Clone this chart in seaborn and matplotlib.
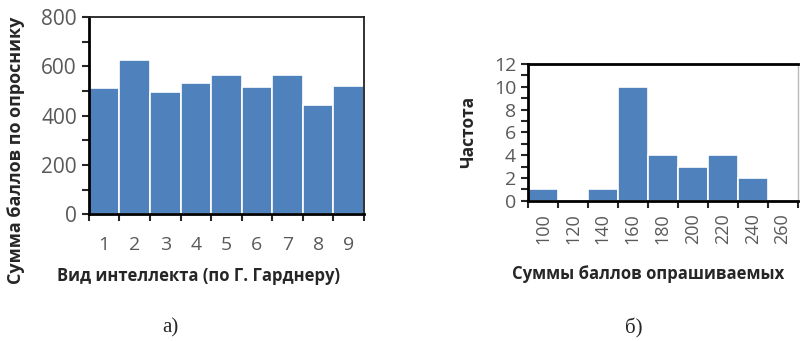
import matplotlib
matplotlib.use('Agg')
import matplotlib.pyplot as plt
import seaborn as sns
import pandas as pd
from matplotlib.ticker import MultipleLocator

# Data: left chart (sum of scores per intelligence type)
intel_types = ['1', '2', '3', '4', '5', '6', '7', '8', '9']
intel_sums = [512, 627, 494, 531, 566, 517, 564, 441, 522]

# Data: right chart (histogram of respondents' sums)
bin_labels = ['100', '120', '140', '160', '180', '200', '220', '240', '260']
bin_counts = [1, 0, 1, 10, 4, 3, 4, 2, 0]

sns.set_style("ticks")
plt.rcParams['font.family'] = ['Open Sans', 'DejaVu Sans']

BAR = '#4F81BD'
TICK = '#595959'

fig = plt.figure(figsize=(8, 3.41), dpi=100)
ax1 = fig.add_axes([0.111, 0.372, 0.344, 0.578])
ax2 = fig.add_axes([0.660, 0.4115, 0.337, 0.4005])

df1 = pd.DataFrame({'type': intel_types, 'sum': intel_sums})
df2 = pd.DataFrame({'bin': bin_labels, 'count': bin_counts})

sns.barplot(data=df1, x='type', y='sum', ax=ax1, color=BAR, width=1.0,
            edgecolor='white', linewidth=1.2, saturation=1)
sns.barplot(data=df2, x='bin', y='count', ax=ax2, color=BAR, width=1.0,
            edgecolor='white', linewidth=1.2, saturation=1)


def style_axis(ax, n, ymax, major, minor):
    ax.set_xlim(-0.5, n - 0.5)
    ax.set_ylim(0, ymax)
    ax.yaxis.set_major_locator(MultipleLocator(major))
    ax.yaxis.set_minor_locator(MultipleLocator(minor))
    ax.set_xticks([i - 0.5 for i in range(n + 1)], minor=True)
    ax.tick_params(axis='x', which='major', length=0, labelsize=14,
                   labelcolor=TICK, pad=16)
    ax.tick_params(axis='x', which='minor', length=5, width=1.5, direction='out')
    ax.tick_params(axis='y', which='both', length=5, width=1.5, direction='out',
                   labelsize=15, labelcolor=TICK)
    for s in ['left', 'bottom']:
        ax.spines[s].set_linewidth(2)
        ax.spines[s].set_color('black')


style_axis(ax1, len(intel_types), 800, 200, 100)
style_axis(ax2, len(bin_labels), 12, 2, 1)

for s in ['top', 'right']:
    ax1.spines[s].set_visible(True)
    ax1.spines[s].set_linewidth(1.3)
    ax1.spines[s].set_color('#222222')

ax2.spines['top'].set_visible(True)
ax2.spines['top'].set_linewidth(2)
ax2.spines['top'].set_color('black')
ax2.spines['right'].set_visible(True)
ax2.spines['right'].set_linewidth(1)
ax2.spines['right'].set_color('#bbbbbb')

ax2.tick_params(axis='x', which='major', rotation=90, pad=9, labelsize=13)
ax2.tick_params(axis='y', labelsize=14)

ax1.set_xlabel('Вид интеллекта (по Г. Гарднеру)', fontsize=12,
               fontweight='bold')
ax1.xaxis.set_label_coords(0.40, -0.27)
ax1.set_ylabel('Сумма баллов по опроснику', fontsize=13,
               fontweight='bold')
ax1.yaxis.set_label_coords(-0.232, 0.325)
ax2.set_xlabel('Суммы баллов опрашиваемых', fontsize=12,
               fontweight='bold')
ax2.xaxis.set_label_coords(0.444, -0.47)
ax2.set_ylabel('Частота', fontsize=12.5, fontweight='bold')
ax2.yaxis.set_label_coords(-0.19, 0.5)

fig.text(170 / 800, 1 - 328 / 341, 'а)', ha='center', va='center',
         fontsize=15, family=['Liberation Serif', 'DejaVu Serif'])
fig.text(634 / 800, 1 - 328 / 341, 'б)', ha='center', va='center',
         fontsize=15, family=['Liberation Serif', 'DejaVu Serif'])

fig.savefig('out.png', dpi=100)
